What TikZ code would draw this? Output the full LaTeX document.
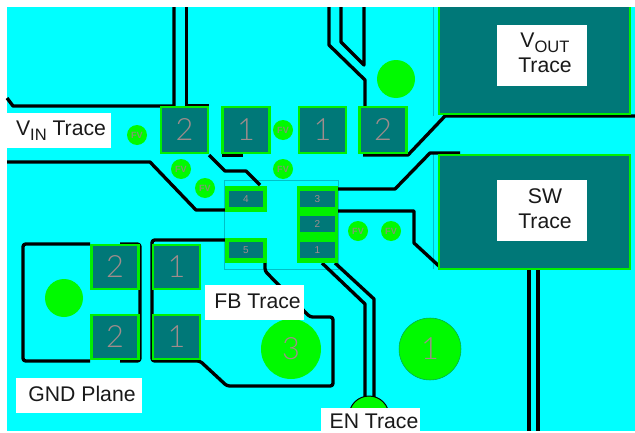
\documentclass[tikz,border=0pt]{standalone}
\usepackage{fontspec}
\setmainfont{Liberation Sans}
\newfontfamily\digitfont{Lato Light}
\definecolor{copper}{HTML}{00FFFF}
\definecolor{padteal}{HTML}{007878}
\definecolor{padgreen}{HTML}{00F000}
\definecolor{viagreen}{HTML}{00FA00}
\definecolor{edgeteal}{HTML}{00C0C8}
\definecolor{silk}{HTML}{A08C8C}
\definecolor{fvgrey}{HTML}{7F9A70}
\newcommand{\subtxt}[1]{\raisebox{-0.22em}{\fontsize{12.4}{12}\selectfont #1}}
\tikzset{
  trace/.style={draw=black,line width=2.5pt,line join=round},
  outline/.style={draw=edgeteal,line width=0.75pt},
  padbox/.style={rectangle,draw=padgreen,fill=padteal,line width=1.7pt,inner sep=0pt,outer sep=0pt,text=silk,font=\digitfont\fontsize{23}{23}\selectfont},
  bigpad/.style={padbox,minimum width=35.2pt,minimum height=34.5pt},
  smallpad/.style={rectangle,fill=padteal,inner sep=0pt,outer sep=0pt,minimum height=12pt,text=silk,font=\fontsize{7.5}{8}\selectfont},
  via/.style={circle,fill=viagreen,inner sep=0pt,outer sep=0pt,minimum size=15pt,text=fvgrey,font=\bfseries\fontsize{6.8}{6.8}\selectfont},
  plain via/.style={circle,fill=viagreen,inner sep=0pt,outer sep=0pt,minimum size=28.5pt},
  big via/.style={circle,fill=viagreen,inner sep=0pt,outer sep=0pt,text=silk,font=\digitfont\fontsize{23}{23}\selectfont},
  labelbg/.style={fill=white},
  labeltext/.style={inner sep=0pt,align=center,text=black!90,font=\fontsize{15.9}{19}\selectfont}
}
\begin{document}
\begin{tikzpicture}[x=0.75pt,y=-0.75pt]
\useasboundingbox (0,0) rectangle (635,432);
\fill[white] (0,0) rectangle (635,432);
\fill[copper] (7,7) rectangle (635,431);
% thin outlines
\draw[outline] (433,7) -- (433,116);
\draw[outline] (433,154) -- (433,269);
\draw[outline] (224,180) rectangle (338,269);
% upper traces
\draw[trace] (7,98) -- (13,106) -- (174,106) -- (174,7);
\draw[trace] (186.5,7) -- (186.5,106) -- (209,106);
\draw[trace] (7,162) -- (150,162) -- (196,210) -- (225,210);
\draw[trace] (209,155) -- (225,171) -- (246,171) -- (260,185);
\draw[trace] (222,155) -- (243,155);
\draw[trace] (329,7) -- (329,45) -- (365,80) -- (365,106);
\draw[trace] (341,7) -- (341,42) -- (364,65) -- (364,7);
\draw[trace] (363,155) -- (408,155) -- (445,116) -- (635,116);
\draw[trace] (335,189) -- (395,189) -- (430,153) -- (460,153);
\draw[trace] (335,211) -- (414,211) -- (414,243) -- (440,267);
% lower traces
\draw[trace] (529,269) -- (529,431);
\draw[trace] (538,269) -- (538,431);
\draw[trace,rounded corners=2] (90,244) -- (23,244) -- (23,361) -- (90,361);
\draw[trace,rounded corners=2] (120,244) -- (140,244) -- (140,361) -- (120,361);
\draw[trace,rounded corners=2] (225,240) -- (152,240) -- (152,361) -- (200,361) -- (227,386) -- (333,386) -- (333,317) -- (310,317) -- (265,271) -- (265,258);
\draw[trace] (322,263) -- (365,304) -- (365,400);
\draw[trace] (335,263) -- (374,299) -- (374,400);
\begin{scope}
\clip (321,380) rectangle (420,409);
\node[plain via,draw=black,line width=0.75pt,minimum size=30pt] (en) at (369,416) {};
\end{scope}
% large copper pads
\begin{scope}
\clip (7,7) rectangle (635,431);
\node[padbox,anchor=north west,minimum width=143pt,minimum height=84pt] (vout) at (439,2) {};
\end{scope}
\node[padbox,anchor=north west,minimum width=143pt,minimum height=85.5pt] (sw) at (439,155) {};
% passive pads
\node[bigpad] (c1a) at (184.5,130) {2};
\node[bigpad] (c1b) at (246,130) {1};
\node[bigpad] (c2b) at (322.5,130) {1};
\node[bigpad] (c2a) at (383,130) {2};
\node[bigpad,minimum height=33pt] (c3a) at (115,267) {2};
\node[bigpad,minimum height=33pt] (c3b) at (176.5,267) {1};
\node[bigpad,minimum height=33pt] (c4a) at (115,337) {2};
\node[bigpad,minimum height=33pt] (c4b) at (176.5,337) {1};
% device
\fill[padgreen] (225,186) rectangle (267,212);
\fill[padgreen] (225,238) rectangle (267,263);
\fill[padgreen] (297,186) rectangle (338,263);
\node[smallpad,minimum width=25.5pt] (p4) at (246,199) {4};
\node[smallpad,minimum width=25.5pt] (p5) at (246,250) {5};
\node[smallpad,minimum width=26.2pt] (p3) at (317.5,199) {3};
\node[smallpad,minimum width=26.2pt] (p2) at (317.5,224) {2};
\node[smallpad,minimum width=26.2pt] (p1) at (317.5,250) {1};
% vias
\node[via] (v1) at (137,135) {FV};
\node[via] (v2) at (181,169) {FV};
\node[via] (v3) at (205,188) {FV};
\node[via] (v4) at (283,130) {FV};
\node[via] (v5) at (283,169) {FV};
\node[via] (v6) at (358,231) {FV};
\node[via] (v7) at (391,231) {FV};
\node[plain via] (h1) at (396,79) {};
\node[plain via] (h2) at (64,298) {};
\node[big via,minimum size=45pt] (t3) at (291,349) {3};
\node[big via,minimum size=46.5pt,draw=padteal!60!viagreen,line width=0.4pt] (t1) at (430,349) {1};
% labels
\fill[labelbg] (7,113) rectangle (111,148);
\fill[labelbg] (497,25) rectangle (587,86);
\fill[labelbg] (497,180) rectangle (587,241);
\fill[labelbg] (205,285) rectangle (304,320);
\fill[labelbg] (16,378) rectangle (142,413);
\fill[labelbg] (321,408) rectangle (420,432);
\node[labeltext] (lvin) at (61,131) {V\subtxt{IN} Trace};
\node[labeltext] (lvout) at (545,53) {V\subtxt{OUT}\\Trace};
\node[labeltext] (lsw) at (545,209) {SW\\Trace};
\node[labeltext] (lfb) at (257.5,301) {FB Trace};
\node[labeltext] (lgnd) at (82,394) {GND Plane};
\node[labeltext] (len) at (374,421) {EN Trace};
\end{tikzpicture}
\end{document}
